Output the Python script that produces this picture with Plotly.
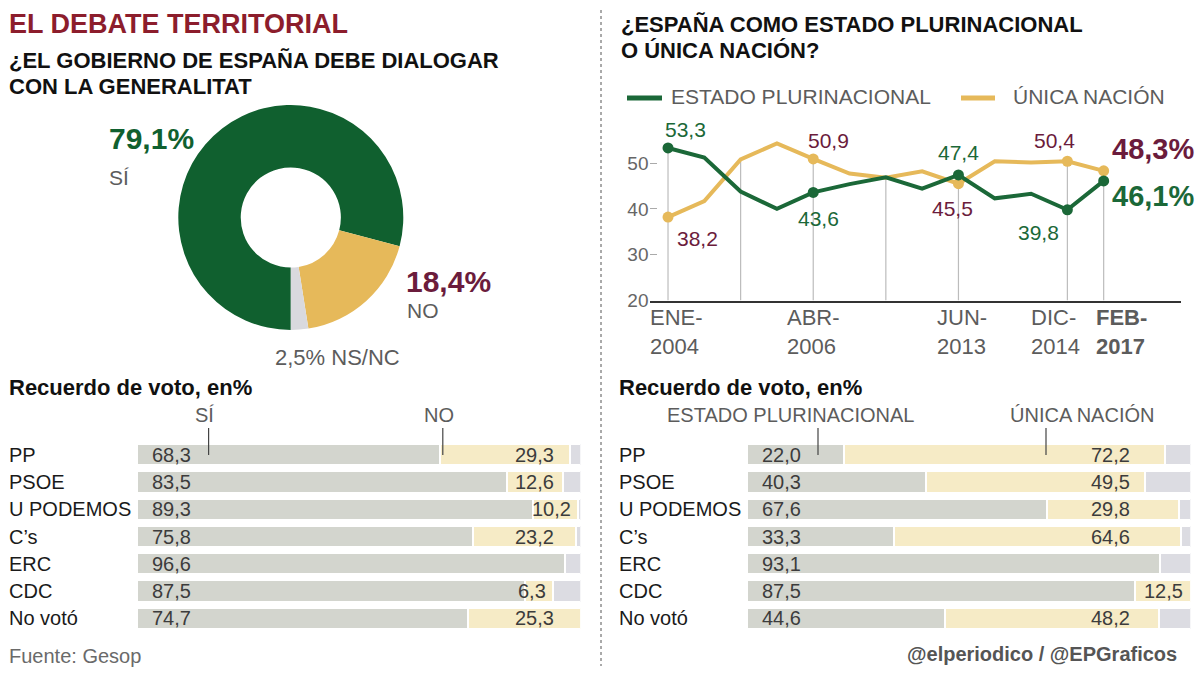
import plotly.graph_objects as go

W, H = 1200, 675          # reference frame (coordinates below are measured in it)
FIG_H = 686               # figure height (viewport compensation)
def px(x): return x / W
def py(y): return 1 - y / H

FONT = "Liberation Sans, Arial, sans-serif"
GREEN = "#10602f"
LGREEN = "#1b6838"
YELLOW = "#e6b95a"
MAROON = "#6b1c3c"
TITLE_RED = "#8c1d2c"
GRAY_TXT = "#5c5c5c"
BAR_GRAY = "#d3d5ce"
BAR_CREAM = "#f6ebc6"
BAR_LAV = "#dcdce2"

# ---------------- data ----------------
pie_labels = ["SÍ", "NO", "NS/NC"]
pie_values = [79.1, 18.4, 2.5]

survey_idx = list(range(13))
plurinacional = [53.3, 51.2, 43.8, 40.0, 43.6, 45.4, 46.9, 44.4, 47.4, 42.3, 43.3, 39.8, 46.1]
unica = [38.2, 41.7, 50.8, 54.3, 50.9, 47.7, 46.8, 48.2, 45.5, 50.4, 50.1, 50.4, 48.3]
guide_idx = [0, 2, 4, 6, 8, 11, 12]
marker_idx = [0, 4, 8, 11, 12]
date_idx = [0, 4, 8, 11, 12]
date_labels = ["ENE-<br>2004", "ABR-<br>2006", "JUN-<br>2013", "DIC-<br>2014", "<b>FEB-<br>2017</b>"]
y_ticks = [20, 30, 40, 50]

parties = ["PP", "PSOE", "U PODEMOS", "C’s", "ERC", "CDC", "No votó"]
dialogo_si = [68.3, 83.5, 89.3, 75.8, 96.6, 87.5, 74.7]
dialogo_no = [29.3, 12.6, 10.2, 23.2, 0, 6.3, 25.3]
voto_plurinacional = [22.0, 40.3, 67.6, 33.3, 93.1, 87.5, 44.6]
voto_unica = [72.2, 49.5, 29.8, 64.6, 0, 12.5, 48.2]

def fmt(v):
    return f"{v:.1f}".replace(".", ",")

fig = go.Figure()

# ---------------- donut ----------------
fig.add_trace(go.Pie(
    labels=pie_labels, values=pie_values, sort=False, direction="clockwise",
    rotation=180, hole=0.445, marker=dict(colors=[GREEN, YELLOW, "#d9d9de"], line=dict(width=0)),
    textinfo="none", hoverinfo="skip", showlegend=False,
    domain=dict(x=[px(178.3), px(403.3)], y=[py(330), py(105)])))

# ---------------- line chart ----------------
gx, gy = [], []
for i in guide_idx:
    gx += [i, i, None]
    gy += [20, max(plurinacional[i], unica[i]), None]
fig.add_trace(go.Scatter(x=gx, y=gy, mode="lines", line=dict(color="#bcbcbc", width=1.2),
                         hoverinfo="skip", showlegend=False, xaxis="x", yaxis="y"))
fig.add_trace(go.Scatter(x=survey_idx, y=unica, mode="lines", line=dict(color=YELLOW, width=4),
                         showlegend=False, xaxis="x", yaxis="y"))
fig.add_trace(go.Scatter(x=survey_idx, y=plurinacional, mode="lines", line=dict(color=LGREEN, width=4),
                         showlegend=False, xaxis="x", yaxis="y"))
fig.add_trace(go.Scatter(x=marker_idx, y=[unica[i] for i in marker_idx], mode="markers",
                         marker=dict(color=YELLOW, size=11), showlegend=False, xaxis="x", yaxis="y"))
fig.add_trace(go.Scatter(x=marker_idx, y=[plurinacional[i] for i in marker_idx], mode="markers",
                         marker=dict(color=LGREEN, size=11), showlegend=False, xaxis="x", yaxis="y"))

# ---------------- bars ----------------
def add_bars(a, b, xa, ya):
    rest = [max(0, 100 - p - q) for p, q in zip(a, b)]
    for vals, col in [(a, BAR_GRAY), (b, BAR_CREAM), (rest, BAR_LAV)]:
        fig.add_trace(go.Bar(y=parties, x=vals, orientation="h", marker=dict(color=col, line=dict(color="white", width=2)),
                             showlegend=False, hoverinfo="skip", xaxis=xa, yaxis=ya))

add_bars(dialogo_si, dialogo_no, "x2", "y2")
add_bars(voto_plurinacional, voto_unica, "x3", "y3")

ann = []
def A(text, x, y, size, color, bold=False, xanchor="left", **kw):
    t = f"<b>{text}</b>" if bold else text
    d = dict(text=t, x=px(x), y=py(y), xref="paper", yref="paper", xanchor=xanchor, yanchor="middle",
             showarrow=False, font=dict(family=FONT, size=size, color=color))
    d.update(kw)
    ann.append(d)

# titles
A("EL DEBATE TERRITORIAL", 7, 24, 27, TITLE_RED, bold=True)
A("¿EL GOBIERNO DE ESPAÑA DEBE DIALOGAR", 7, 61, 22, "#111", bold=True)
A("CON LA GENERALITAT", 7, 87, 22, "#111", bold=True)
A("¿ESPAÑA COMO ESTADO PLURINACIONAL", 619, 25, 22, "#111", bold=True)
A("O ÚNICA NACIÓN?", 619, 50, 22, "#111", bold=True)

# pie labels
A("79,1%", 107, 138, 30, GREEN, bold=True)
A("SÍ", 107, 177, 21, GRAY_TXT)
A("18,4%", 404, 281, 30, MAROON, bold=True)
A("NO", 405, 311, 21, GRAY_TXT)
A("2,5% NS/NC", 337, 357, 22, GRAY_TXT, xanchor="center")

# legend
A("ESTADO PLURINACIONAL", 669, 97, 21, GRAY_TXT)
A("ÚNICA NACIÓN", 1011, 97, 21, GRAY_TXT)

# line value labels (index, series, xshift, yshift)
line_labels = [
    (0, "p", 17, 18), (0, "u", 29, -21), (4, "u", 15, 18), (4, "p", 5, -26),
    (8, "p", 0, 22), (8, "u", -6, -25), (11, "u", -13, 21), (11, "p", -29, -23),
]
for i, s, xs, ys in line_labels:
    v = plurinacional[i] if s == "p" else unica[i]
    ann.append(dict(text=fmt(v), x=i, y=v, xref="x", yref="y", xshift=xs, yshift=ys, showarrow=False,
                    xanchor="center", yanchor="middle",
                    font=dict(family=FONT, size=21, color=LGREEN if s == "p" else MAROON)))
last = survey_idx[-1]
ann.append(dict(text=f"<b>{fmt(unica[last])}%</b>", x=last, y=unica[last], xref="x", yref="y", xshift=6, yshift=22,
                showarrow=False, xanchor="left", yanchor="middle", font=dict(family=FONT, size=29, color=MAROON)))
ann.append(dict(text=f"<b>{fmt(plurinacional[last])}%</b>", x=last, y=plurinacional[last], xref="x", yref="y", xshift=6,
                yshift=-15, showarrow=False, xanchor="left", yanchor="middle", font=dict(family=FONT, size=29, color=LGREEN)))

date_shift = [8, 0, 4, -12, 18]
for i, lab, xs in zip(date_idx, date_labels, date_shift):
    ann.append(dict(text=lab, x=i, y=20, xref="x", yref="y", xshift=xs, yshift=-31, showarrow=False,
                    xanchor="center", yanchor="middle", align="left",
                    font=dict(family=FONT, size=22, color=GRAY_TXT)))

# bar section headers
A("Recuerdo de voto, en%", 7, 387, 22, "#111", bold=True)
A("Recuerdo de voto, en%", 617, 387, 22, "#111", bold=True)
A("SÍ", 204, 415, 20, GRAY_TXT, xanchor="center")
A("NO", 439, 415, 20, GRAY_TXT, xanchor="center")
A("ESTADO PLURINACIONAL", 790, 415, 20, GRAY_TXT, xanchor="center")
A("ÚNICA NACIÓN", 1082, 415, 20, GRAY_TXT, xanchor="center")

def bar_labels(a, b, xa, ya, right_anchor, label_x):
    for p, q, party in zip(a, b, parties):
        ann.append(dict(text=party, x=px(label_x), y=party, xref="paper", yref=ya, xanchor="left", yanchor="middle",
                        showarrow=False, font=dict(family=FONT, size=20, color="#1a1a1a")))
        ann.append(dict(text=fmt(p), x=0, y=party, xref=xa, yref=ya, xanchor="left", xshift=13, yanchor="middle",
                        showarrow=False, font=dict(family=FONT, size=20, color="#3c3c3c")))
        if q > 0:
            width_units = len(fmt(q)) * 0.52 * 20 / 4.44
            xr = right_anchor if p + width_units + 0.5 <= right_anchor else p + q - 1.2
            ann.append(dict(text=fmt(q), x=xr, y=party, xref=xa, yref=ya, xanchor="right", yanchor="middle",
                            showarrow=False, font=dict(family=FONT, size=20, color="#3c3c3c")))

bar_labels(dialogo_si, dialogo_no, "x2", "y2", 94.5, 7)
bar_labels(voto_plurinacional, voto_unica, "x3", "y3", 86.9, 617)

A("Fuente: Gesop", 7, 656, 20, "#6a6a6a")
A("@elperiodico / @EPGraficos", 1179, 654, 20, "#555", bold=True, xanchor="right")

shapes = [
    dict(type="line", xref="paper", yref="paper", x0=px(601), x1=px(601), y0=py(10), y1=py(666),
         line=dict(color="#555", width=1, dash="dot")),
    dict(type="line", xref="paper", yref="paper", x0=px(627), x1=px(662), y0=py(98), y1=py(98),
         line=dict(color=LGREEN, width=5)),
    dict(type="line", xref="paper", yref="paper", x0=px(961), x1=px(995), y0=py(98), y1=py(98),
         line=dict(color=YELLOW, width=5)),
]
for xx in [208.6, 442.8, 818, 1046]:
    shapes.append(dict(type="line", xref="paper", yref="paper", x0=px(xx), x1=px(xx), y0=py(428), y1=py(455),
                       line=dict(color="#444", width=1.2)))

hidden = dict(visible=False, showgrid=False, zeroline=False, fixedrange=True)
bar_top, bar_bot = 441, 632
fig.update_layout(
    width=W, height=FIG_H, autosize=False, margin=dict(l=0, r=0, t=0, b=0),
    paper_bgcolor="white", plot_bgcolor="white", barmode="stack", bargap=0.22,
    font=dict(family=FONT, color=GRAY_TXT),
    xaxis=dict(domain=[px(649.5), px(1181)], range=[-0.51, 14.13], showline=True, linecolor="#333",
               linewidth=1.5, showticklabels=False, showgrid=False, zeroline=False, ticks="", anchor="y"),
    yaxis=dict(domain=[py(300.5), py(131)], range=[20, 57], tickvals=y_ticks, ticktext=[str(v) for v in y_ticks],
               showgrid=False, zeroline=False, showline=False, ticks="inside", ticklen=7, tickcolor="#aaa",
               tickwidth=1, tickfont=dict(family=FONT, size=19, color="#666"), anchor="x"),
    xaxis2=dict(domain=[px(136.5), px(580.5)], range=[0, 100], anchor="y2", **hidden),
    yaxis2=dict(domain=[py(bar_bot), py(bar_top)], autorange="reversed", anchor="x2", type="category", **hidden),
    xaxis3=dict(domain=[px(746.7), px(1190.5)], range=[0, 100], anchor="y3", **hidden),
    yaxis3=dict(domain=[py(bar_bot), py(bar_top)], autorange="reversed", anchor="x3", type="category", **hidden),
    annotations=ann, shapes=shapes,
)

fig.write_html("out.html", config={"displayModeBar": False},
               post_script="document.body.style.margin='0';document.body.style.overflow='hidden';")
